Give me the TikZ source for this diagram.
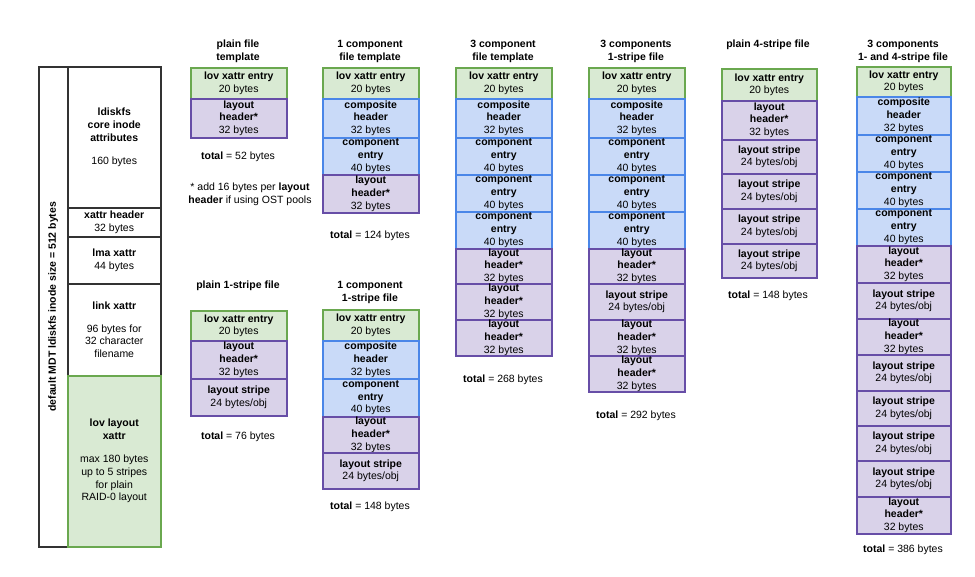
\documentclass[tikz,border=0pt]{standalone}
\usepackage{fontspec}
\setmainfont{Liberation Sans}
\definecolor{gf}{HTML}{D9EAD3}\definecolor{gd}{HTML}{6AA84F}
\definecolor{bf}{HTML}{C9DAF8}\definecolor{bd}{HTML}{4A86E8}
\definecolor{pf}{HTML}{D9D2E9}\definecolor{pd}{HTML}{674EA7}
\tikzset{
 grn/.style={draw=gd,fill=gf,line width=1.5pt},
 blu/.style={draw=bd,fill=bf,line width=1.5pt},
 pur/.style={draw=pd,fill=pf,line width=1.5pt},
 wht/.style={draw=black!80,fill=white,line width=1.5pt},
 txt/.style={align=center,font=\fontsize{10.5}{12.8}\selectfont,inner sep=0pt},
 ttl/.style={align=center,font=\bfseries\fontsize{10.5}{12.8}\selectfont,inner sep=0pt,anchor=north},
}
\newcommand\bx[7]{\node[#2,anchor=north west,minimum width=#5pt,minimum height=#6pt,inner sep=0pt] (#1) at (#3,#4) {};
 \node[txt] at (#1.center) {#7};}
\newcommand\lov{\textbf{lov xattr entry}\\20 bytes}
\newcommand\lh{\textbf{layout}\\\textbf{header*}\\32 bytes}
\newcommand\cmh{\textbf{composite}\\\textbf{header}\\32 bytes}
\newcommand\cme{\textbf{component}\\\textbf{entry}\\40 bytes}
\newcommand\lst{\textbf{layout stripe}\\24 bytes/obj}
\newcommand\tot[1]{\textbf{total} = #1 bytes}
\begin{document}
\begin{tikzpicture}[x=1pt,y=-1pt]
\useasboundingbox (0,0) rectangle (975,576);
% left MDT
\bx{mdt}{wht}{38}{66}{29}{480}{}
\node[txt,rotate=90,font=\bfseries\fontsize{10.5}{12}\selectfont] at (mdt.center) {default MDT ldiskfs inode size = 512 bytes};
\bx{m1}{wht}{67}{66}{93}{141}{\textbf{ldiskfs}\\\textbf{core inode}\\\textbf{attributes}\\[10pt]160 bytes}
\bx{m2}{wht}{67}{207}{93}{29}{\textbf{xattr header}\\32 bytes}
\bx{m3}{wht}{67}{236}{93}{47}{\textbf{lma xattr}\\44 bytes}
\bx{m4}{wht}{67}{283}{93}{92}{\textbf{link xattr}\\[10pt]96 bytes for\\32 character\\filename}
\bx{m5}{grn}{67}{375}{93}{171}{\textbf{lov layout}\\\textbf{xattr}\\[10pt]max 180 bytes\\up to 5 stripes\\for plain\\RAID-0 layout}
% col1
\node[ttl] (t1) at (238,40) {plain file\\template};
\bx{a1}{grn}{190}{67}{96}{31}{\lov}
\bx{a2}{pur}{190}{98}{96}{39}{\lh}
\node[txt] (ta) at (238,157) {\tot{52}};
\node[txt] (fn) at (250,194) {* add 16 bytes per \textbf{layout}\\\textbf{header} if using OST pools};
\node[ttl] (t2) at (238,281) {plain 1-stripe file};
\bx{b1}{grn}{190}{310}{96}{30}{\lov}
\bx{b2}{pur}{190}{340}{96}{38}{\lh}
\bx{b3}{pur}{190}{378}{96}{37}{\lst}
\node[txt] (tb) at (238,437) {\tot{76}};
% col2
\node[ttl] (t3) at (370,40) {1 component\\file template};
\bx{c1}{grn}{322}{67}{96}{31}{\lov}
\bx{c2}{blu}{322}{98}{96}{39}{\cmh}
\bx{c3}{blu}{322}{137}{96}{37}{\cme}
\bx{c4}{pur}{322}{174}{96}{38}{\lh}
\node[txt] (tc) at (370,236) {\tot{124}};
\node[ttl] (t4) at (370,281) {1 component\\1-stripe file};
\bx{d1}{grn}{322}{309}{96}{31}{\lov}
\bx{d2}{blu}{322}{340}{96}{38}{\cmh}
\bx{d3}{blu}{322}{378}{96}{38}{\cme}
\bx{d4}{pur}{322}{416}{96}{36}{\lh}
\bx{d5}{pur}{322}{452}{96}{36}{\lst}
\node[txt] (td) at (370,507) {\tot{148}};
% col3
\node[ttl] (t5) at (503,40) {3 component\\file template};
\bx{e1}{grn}{455}{67}{96}{31}{\lov}
\bx{e2}{blu}{455}{98}{96}{39}{\cmh}
\bx{e3}{blu}{455}{137}{96}{37}{\cme}
\bx{e4}{blu}{455}{174}{96}{37}{\cme}
\bx{e5}{blu}{455}{211}{96}{37}{\cme}
\bx{e6}{pur}{455}{248}{96}{35}{\lh}
\bx{e7}{pur}{455}{283}{96}{36}{\lh}
\bx{e8}{pur}{455}{319}{96}{36}{\lh}
\node[txt] (te) at (503,380) {\tot{268}};
% col4
\node[ttl] (t6) at (636,40) {3 components\\1-stripe file};
\bx{f1}{grn}{588}{67}{96}{31}{\lov}
\bx{f2}{blu}{588}{98}{96}{39}{\cmh}
\bx{f3}{blu}{588}{137}{96}{37}{\cme}
\bx{f4}{blu}{588}{174}{96}{37}{\cme}
\bx{f5}{blu}{588}{211}{96}{37}{\cme}
\bx{f6}{pur}{588}{248}{96}{35}{\lh}
\bx{f7}{pur}{588}{283}{96}{36}{\lst}
\bx{f8}{pur}{588}{319}{96}{36}{\lh}
\bx{f9}{pur}{588}{355}{96}{36}{\lh}
\node[txt] (tf) at (636,416) {\tot{292}};
% col5
\node[ttl] (t7) at (768,40) {plain 4-stripe file};
\bx{g1}{grn}{721}{68}{95}{32}{\lov}
\bx{g2}{pur}{721}{100}{95}{39}{\lh}
\bx{g3}{pur}{721}{139}{95}{34}{\lst}
\bx{g4}{pur}{721}{173}{95}{35}{\lst}
\bx{g5}{pur}{721}{208}{95}{35}{\lst}
\bx{g6}{pur}{721}{243}{95}{34}{\lst}
\node[txt] (tg) at (768,296) {\tot{148}};
% col6
\node[ttl] (t8) at (903,40) {3 components\\1- and 4-stripe file};
\bx{h1}{grn}{856}{66}{94}{30}{\lov}
\bx{h2}{blu}{856}{96}{94}{38}{\cmh}
\bx{h3}{blu}{856}{134}{94}{37}{\cme}
\bx{h4}{blu}{856}{171}{94}{37}{\cme}
\bx{h5}{blu}{856}{208}{94}{37}{\cme}
\bx{h6}{pur}{856}{245}{94}{37}{\lh}
\bx{h7}{pur}{856}{282}{94}{36}{\lst}
\bx{h8}{pur}{856}{318}{94}{36}{\lh}
\bx{h9}{pur}{856}{354}{94}{36}{\lst}
\bx{h10}{pur}{856}{390}{94}{35}{\lst}
\bx{h11}{pur}{856}{425}{94}{35}{\lst}
\bx{h12}{pur}{856}{460}{94}{36}{\lst}
\bx{h13}{pur}{856}{496}{94}{37}{\lh}
\node[txt] (th) at (903,550) {\tot{386}};
\end{tikzpicture}
\end{document}
